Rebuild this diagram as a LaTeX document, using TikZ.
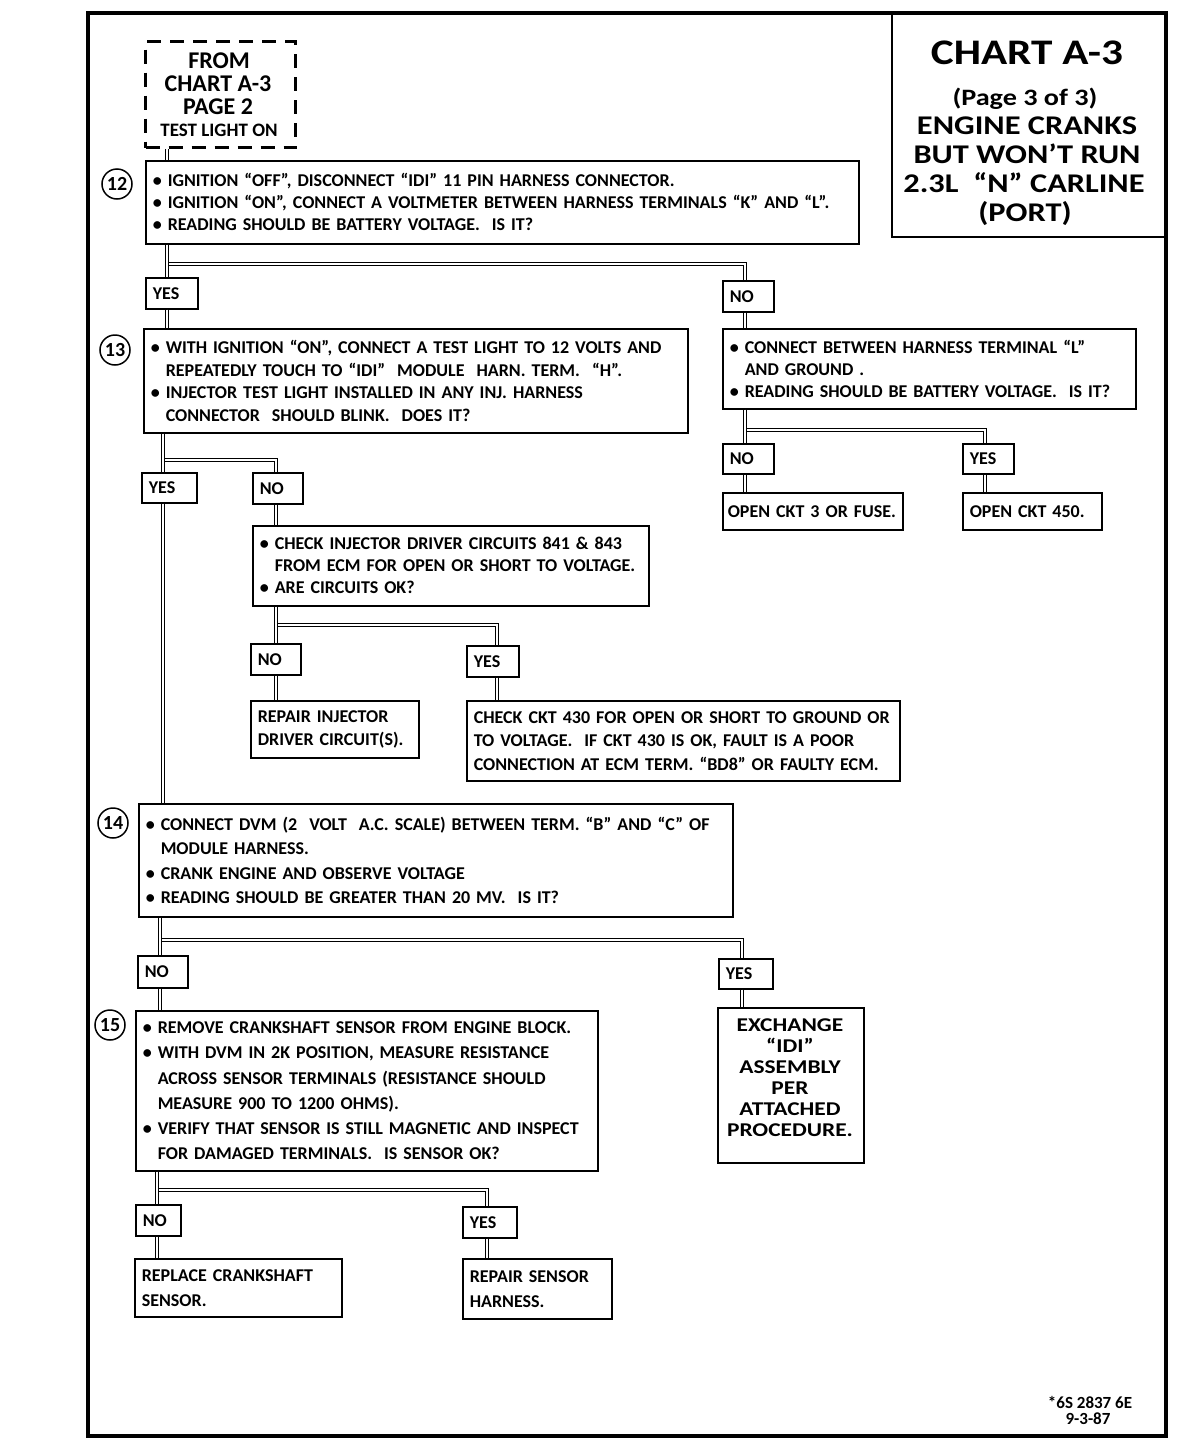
\documentclass[tikz,border=0pt]{standalone}
\usepackage{fontspec}
\setmainfont{Carlito}
\newfontfamily\ttlfont{Carlito}[FakeStretch=1.2]
\newcommand{\bu}{\textbullet\ }
\newcommand{\ii}{\hphantom{\textbullet\ }}
\newcommand{\fz}[2]{\fontsize{#1}{#2}\selectfont}
\begin{document}
\begin{tikzpicture}[x=1pt,y=-1pt,
  frame/.style={draw, line width=3.5pt},
  box/.style={draw, line width=1.6pt, inner xsep=7pt, inner ysep=0pt, anchor=north west, align=left, font=\bfseries\fz{18}{22}},
  yn/.style={draw, line width=1.6pt, inner xsep=7pt, inner ysep=0pt, anchor=north west, align=left, font=\bfseries\fz{18}{20}},
  dbox/.style={draw, line width=3pt, dash pattern=on 14pt off 9pt, inner sep=0pt, anchor=north west},
  num/.style={draw, circle, line width=1.5pt, minimum size=30pt, inner sep=0pt, font=\bfseries\fz{20}{22}},
  ttl/.style={anchor=base, font=\ttlfont\bfseries\fz{27}{30}},
  lbl/.style={anchor=base, font=\bfseries\fz{24}{26}},
  conn/.style={double, double distance=2.2pt, line width=0.8pt}
]
\useasboundingbox (0,0) rectangle (1200,1456);
\draw[frame] (88,13) rectangle (1166,1436);

% title
\node[draw, line width=1.6pt, minimum width=275pt, minimum height=223pt, inner sep=0pt, anchor=north west] (title) at (891,13) {};
\node[ttl, font=\ttlfont\bfseries\fz{36}{40}] (t1) at (1027,64) {CHART A-3};
\node[ttl, font=\ttlfont\bfseries\fz{23.5}{26}] (t2) at (1025,105) {(Page 3 of 3)};
\node[ttl] (t3) at (1027,134) {ENGINE CRANKS};
\node[ttl] (t4) at (1027,163) {BUT WON’T RUN};
\node[ttl] (t5) at (1024,192) {2.3L \ “N” CARLINE};
\node[ttl] (t6) at (1025,221) {(PORT)};

% from box
\node[dbox, minimum width=150pt, minimum height=106pt] (from) at (144,40) {};
\node[lbl] (f1) at (219,68) {FROM};
\node[lbl] (f2) at (218,91) {CHART A-3};
\node[lbl] (f3) at (218,114) {PAGE 2};
\node[lbl, font=\bfseries\fz{19}{20}] (f4) at (219,136) {TEST LIGHT ON};

% step 12
\node[box, text width=699pt, minimum height=83pt] (b12) at (145,160) {\bu IGNITION “OFF”, DISCONNECT “IDI” 11 PIN HARNESS CONNECTOR.\\
\bu IGNITION “ON”, CONNECT A VOLTMETER BETWEEN HARNESS TERMINALS “K” AND “L”.\\
\bu READING SHOULD BE BATTERY VOLTAGE.\ \ IS IT?};
\node[num] (n12) at (117,184) {12};

\node[yn, text width=38pt, minimum height=31pt] (y1) at (145,277) {YES};
\node[yn, text width=37pt, minimum height=31pt] (no1) at (722,280) {NO};

% step 13
\node[box, text width=530pt, minimum height=104pt, font=\bfseries\fz{18}{22.7}] (b13) at (143,328) {\bu WITH IGNITION “ON”, CONNECT A TEST LIGHT TO 12 VOLTS AND\\
\ii REPEATEDLY TOUCH TO “IDI” \ MODULE \ HARN. TERM. \ “H”.\\
\bu INJECTOR TEST LIGHT INSTALLED IN ANY INJ. HARNESS\\
\ii CONNECTOR \ SHOULD BLINK. \ DOES IT?};
\node[num] (n13) at (115,350) {13};

\node[box, text width=399pt, minimum height=80pt] (r1) at (722,328) {\bu CONNECT BETWEEN HARNESS TERMINAL “L”\\
\ii AND GROUND .\\
\bu READING SHOULD BE BATTERY VOLTAGE. \ IS IT?};

\node[yn, text width=37pt, minimum height=30pt] (no2) at (722,443) {NO};
\node[yn, text width=37pt, minimum height=30pt] (y2) at (962,443) {YES};
\node[box, inner xsep=5pt, text width=170pt, minimum height=37pt] (open3) at (722,492) {OPEN CKT 3 OR FUSE.};
\node[box, text width=125pt, minimum height=37pt] (open450) at (962,492) {OPEN CKT 450.};

\node[yn, text width=41pt, minimum height=30pt] (y3) at (141,472) {YES};
\node[yn, text width=36pt, minimum height=31pt] (no3) at (252,472) {NO};

\node[box, text width=382pt, minimum height=80pt] (ci) at (252,525) {\bu CHECK INJECTOR DRIVER CIRCUITS 841 \& 843\\
\ii FROM ECM FOR OPEN OR SHORT TO VOLTAGE.\\
\bu ARE CIRCUITS OK?};

\node[yn, text width=36pt, minimum height=31pt] (no4) at (250,643) {NO};
\node[yn, text width=38pt, minimum height=31pt] (y4) at (466,645) {YES};
\node[box, text width=154pt, minimum height=57pt, font=\bfseries\fz{18}{23}] (rep) at (250,700) {REPAIR INJECTOR\\DRIVER CIRCUIT(S).};
\node[box, text width=419pt, minimum height=80pt, font=\bfseries\fz{18}{23.5}] (c430) at (466,700) {CHECK CKT 430 FOR OPEN OR SHORT TO GROUND OR\\
TO VOLTAGE. \ IF CKT 430 IS OK, FAULT IS A POOR\\
CONNECTION AT ECM TERM. “BD8” OR FAULTY ECM.};

% step 14
\node[box, text width=580pt, minimum height=113pt, font=\bfseries\fz{18}{24.3}] (b14) at (138,803) {\bu CONNECT DVM (2 \ VOLT \ A.C. SCALE) BETWEEN TERM. “B” AND “C” OF\\
\ii MODULE HARNESS.\\
\bu CRANK ENGINE AND OBSERVE VOLTAGE\\
\bu READING SHOULD BE GREATER THAN 20 MV. \ IS IT?};
\node[num] (n14) at (113,823) {14};

\node[yn, text width=36pt, minimum height=32pt] (no5) at (137,955) {NO};
\node[yn, text width=40pt, minimum height=30pt] (y5) at (718,958) {YES};

\node[draw, line width=1.6pt, inner sep=0pt, anchor=north west, minimum width=146pt, minimum height=155pt] (ex) at (717,1007) {};
\node[align=center, inner sep=0pt, font=\ttlfont\bfseries\fz{19.5}{21}] (extxt) at (790,1078) {EXCHANGE\\“IDI”\\ASSEMBLY\\PER\\ATTACHED\\PROCEDURE.};

% step 15
\node[box, text width=448pt, minimum height=160pt, font=\bfseries\fz{18}{25.2}] (b15) at (135,1010) {\bu REMOVE CRANKSHAFT SENSOR FROM ENGINE BLOCK.\\
\bu WITH DVM IN 2K POSITION, MEASURE RESISTANCE\\
\ii ACROSS SENSOR TERMINALS (RESISTANCE SHOULD\\
\ii MEASURE 900 TO 1200 OHMS).\\
\bu VERIFY THAT SENSOR IS STILL MAGNETIC AND INSPECT\\
\ii FOR DAMAGED TERMINALS. \ IS SENSOR OK?};
\node[num] (n15) at (110,1025) {15};

\node[yn, text width=31pt, minimum height=31pt] (no6) at (135,1204) {NO};
\node[yn, text width=40pt, minimum height=31pt] (y6) at (462,1206) {YES};
\node[box, text width=193pt, minimum height=58pt, font=\bfseries\fz{18}{25}] (repl) at (134,1258) {REPLACE CRANKSHAFT\\SENSOR.};
\node[box, text width=135pt, minimum height=60pt, font=\bfseries\fz{18}{25}] (reps) at (462,1258) {REPAIR SENSOR\\HARNESS.};

% footer
\node[anchor=base, font=\bfseries\fz{17}{18}] (code) at (1090,1408) {*6S 2837 6E};
\node[anchor=base, font=\bfseries\fz{17}{18}] (date) at (1088,1424) {9-3-87};

% connector coordinates
\coordinate (xa) at (167,0);
\coordinate (xb) at (745,0);
\coordinate (xc) at (985,0);
\coordinate (xd) at (163,0);
\coordinate (xe) at (276,0);
\coordinate (xf) at (497,0);
\coordinate (xg) at (160,0);
\coordinate (xh) at (742,0);
\coordinate (xi) at (157,0);
\coordinate (xj) at (487,0);

% branches first
\draw[conn] (xa |- 0,264) -- (xb |- 0,264) -- (xb |- no1.north);
\draw[conn] (xb |- 0,430) -- (xc |- 0,430) -- (xc |- y2.north);
\draw[conn] (xd |- 0,460) -- (xe |- 0,460) -- (xe |- no3.north);
\draw[conn] (xe |- 0,625) -- (xf |- 0,625) -- (xf |- y4.north);
\draw[conn] (xg |- 0,940) -- (xh |- 0,940) -- (xh |- y5.north);
\draw[conn] (xi |- 0,1190) -- (xj |- 0,1190) -- (xj |- y6.north);

% trunks
\draw[conn] (xa |- from.south) -- (xa |- b12.north);
\draw[conn] (xa |- b12.south) -- (xa |- y1.north);
\draw[conn] (xa |- y1.south) -- (xa |- b13.north);
\draw[conn] (xb |- no1.south) -- (xb |- r1.north);
\draw[conn] (xb |- r1.south) -- (xb |- no2.north);
\draw[conn] (xb |- no2.south) -- (xb |- open3.north);
\draw[conn] (xc |- y2.south) -- (xc |- open450.north);
\draw[conn] (xd |- b13.south) -- (xd |- y3.north);
\draw[conn] (xd |- y3.south) -- (xd |- b14.north);
\draw[conn] (xe |- no3.south) -- (xe |- ci.north);
\draw[conn] (xe |- ci.south) -- (xe |- no4.north);
\draw[conn] (xe |- no4.south) -- (xe |- rep.north);
\draw[conn] (xf |- y4.south) -- (xf |- c430.north);
\draw[conn] (xg |- b14.south) -- (xg |- no5.north);
\draw[conn] (xg |- no5.south) -- (xg |- b15.north);
\draw[conn] (xh |- y5.south) -- (xh |- ex.north);
\draw[conn] (xi |- b15.south) -- (xi |- no6.north);
\draw[conn] (xi |- no6.south) -- (xi |- repl.north);
\draw[conn] (xj |- y6.south) -- (xj |- reps.north);
\end{tikzpicture}
\end{document}
